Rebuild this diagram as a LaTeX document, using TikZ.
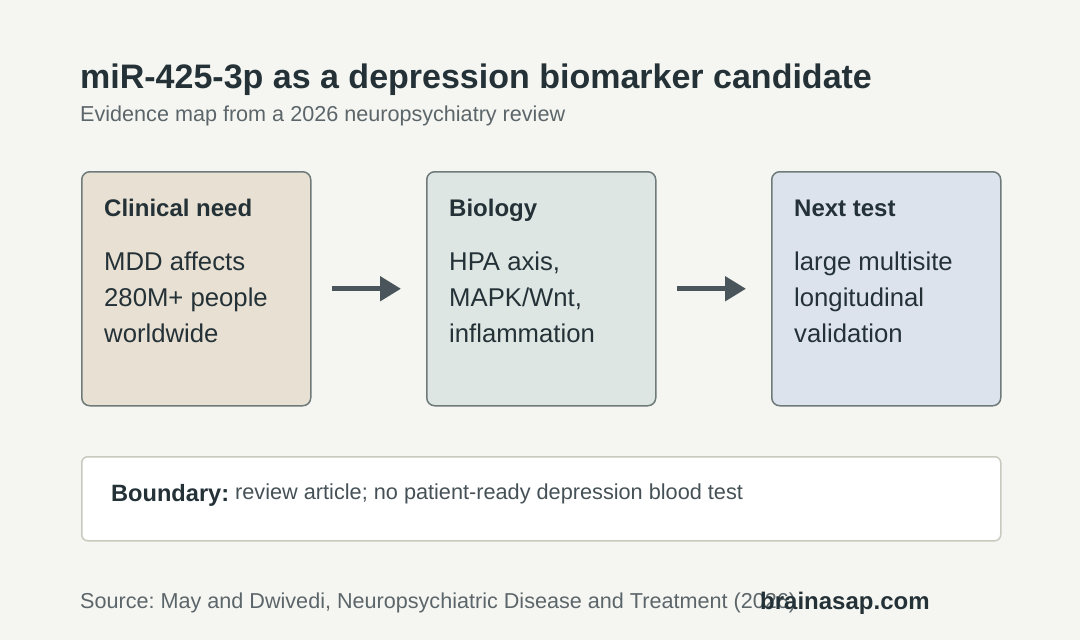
\documentclass[tikz,border=0pt]{standalone}
\usepackage{fontspec}
\setmainfont{Liberation Sans}
\usepackage{xcolor}
\usetikzlibrary{arrows.meta,positioning}
\frenchspacing
\definecolor{pagebg}{HTML}{F5F6F1}
\definecolor{ink}{HTML}{243238}
\definecolor{subink}{HTML}{5C666A}
\definecolor{edge}{HTML}{6F7B7B}
\definecolor{needfill}{HTML}{E8E0D2}
\definecolor{biofill}{HTML}{DDE6E2}
\definecolor{testfill}{HTML}{DDE3EC}
\definecolor{arrowink}{HTML}{4A555B}
\definecolor{noteedge}{HTML}{C8CAC0}
\tikzset{
  card/.style={draw=edge,line width=1.5pt,rounded corners=8pt,anchor=north west,
               minimum width=229pt,minimum height=234pt,inner sep=0pt},
  cardhead/.style={anchor=base west,inner sep=0pt,text=ink,
                   font=\fontsize{24}{28}\selectfont\bfseries},
  cardbody/.style={anchor=base west,inner sep=0pt,text=ink,align=left,
                   font=\fontsize{25.7}{36}\selectfont},
  flow/.style={draw=arrowink,line width=5pt,shorten <=20pt,shorten >=25pt,
               -{Triangle[length=21pt,width=24pt]}},
  note/.style={draw=noteedge,line width=1.5pt,fill=white,rounded corners=6pt,
               anchor=north west,minimum width=919pt,minimum height=84pt,inner sep=0pt},
}
\begin{document}
\begin{tikzpicture}[x=1pt,y=-1pt]
  \fill[pagebg] (0,0) rectangle (1080,640);
  \useasboundingbox (0,0) rectangle (1080,640);
  % title
  \node[anchor=base west,inner sep=0pt,text=ink,font=\fontsize{34}{40}\selectfont\bfseries]
    (title) at (80,88) {miR-425-3p as a depression biomarker candidate};
  \node[anchor=base west,inner sep=0pt,text=subink,font=\fontsize{21.6}{26}\selectfont]
    (subtitle) at (80,121) {Evidence map from a 2026 neuropsychiatry review};
  % three cards
  \node[card,fill=needfill] (need) at (81,171) {};
  \node[card,fill=biofill]  (bio)  at (426,171) {};
  \node[card,fill=testfill] (test) at (771,171) {};
  \node[cardhead] (needhead) at (104,216) {Clinical need};
  \node[cardhead] (biohead)  at (449,216) {Biology};
  \node[cardhead] (testhead) at (794,216) {Next test};
  % base anchor sits on the last line
  \node[cardbody] (needbody) at (104,342) {MDD affects\\280M+ people\\worldwide};
  \node[cardbody] (biobody)  at (449,342) {HPA axis,\\MAPK/Wnt,\\inflammation};
  \node[cardbody] (testbody) at (794,342) {large multisite\\longitudinal\\validation};
  \draw[flow] (need.east) -- (bio.west);
  \draw[flow] (bio.east) -- (test.west);
  % boundary note
  \node[note] (boundary) at (81,456) {};
  \node[anchor=base west,inner sep=0pt,text=ink,font=\fontsize{23.6}{28}\selectfont\bfseries]
    (boundlabel) at (111,501) {Boundary:};
  \node[anchor=base west,inner sep=0pt,text=ink!85!white,font=\fontsize{21.7}{26}\selectfont]
    (boundtext) at (235,499) {review article; no patient-ready depression blood test};
  % footer
  \node[anchor=base west,inner sep=0pt,text=subink,font=\fontsize{21.6}{26}\selectfont]
    (source) at (80,608) {Source: May and Dwivedi, Neuropsychiatric Disease and Treatment (2026)};
  \node[anchor=base west,inner sep=0pt,text=ink,font=\fontsize{24}{28}\selectfont\bfseries]
    (brand) at (760,609) {brainasap.com};
\end{tikzpicture}
\end{document}
